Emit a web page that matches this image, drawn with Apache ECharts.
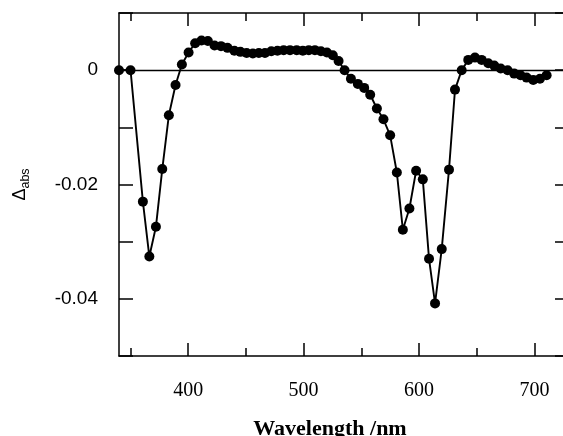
<!DOCTYPE html>
<html>
<head>
<meta charset="utf-8">
<script src="https://cdn.jsdelivr.net/npm/echarts@6/dist/echarts.min.js"></script>
<style>html,body{margin:0;padding:0;background:#fff}#c{width:563px;height:436px}</style>
</head>
<body>
<div id="c"></div>
<script>
const wavelengths = [340,350,360.7,366.3,372,377.5,383.2,389,394.5,400.3,406,411.5,417,422.8,428.4,434,440,445.2,450.6,456,461.2,466.5,472,477.3,482.7,488.2,494,499.3,504.5,509.8,515,520.2,525.3,530.3,535.5,541,547,552.5,557.7,563.5,569.2,575,580.8,586,591.7,597.5,603.3,608.7,613.9,619.7,626,631.2,637,642.7,648.5,654.3,660,665.2,670.8,676.8,682.5,688,693.3,699,704.8,710.6];
const deltaAbs = [0,0,-0.0230,-0.0326,-0.0274,-0.0173,-0.0079,-0.0026,0.0010,0.0031,0.0047,0.0052,0.0051,0.0043,0.0042,0.0039,0.0034,0.0032,0.0030,0.0029,0.0030,0.0030,0.0033,0.0034,0.0035,0.0035,0.0035,0.0034,0.0035,0.0035,0.0033,0.0031,0.0026,0.0016,0.0000,-0.0015,-0.0024,-0.0031,-0.0043,-0.0067,-0.0086,-0.0114,-0.0179,-0.0279,-0.0242,-0.0176,-0.0191,-0.0330,-0.0408,-0.0313,-0.0174,-0.0034,0.0000,0.0018,0.0022,0.0018,0.0012,0.0008,0.0003,0.0000,-0.0006,-0.0009,-0.0013,-0.0017,-0.0015,-0.0009];
const xMajorTicks = [400,500,600,700];
const xMinorTicks = [350,450,550,650];
const yTicks = [-0.05,-0.04,-0.03,-0.02,-0.01,0,0.01];
const yLabels = [-0.04,-0.02,0];

const points = wavelengths.map((w,i)=>[w, deltaAbs[i]]);
const axisLineStyle = {color:'#000', width:1.5};
const xRange = {min:340, max:730};

const chart = echarts.init(document.getElementById('c'), null, {renderer:'canvas'});
chart.setOption({
  animation:false,
  backgroundColor:'#fff',
  title:{
    text:'Wavelength /nm', left:325, top:413, textAlign:'center',
    textStyle:{fontFamily:'Liberation Serif', fontWeight:'bold', fontSize:22, color:'#000'}
  },
  grid:{left:119, top:13, width:450, height:343, containLabel:false, outerBoundsMode:'none'},
  xAxis:[
    Object.assign({type:'value', position:'bottom',
      axisLine:{show:true, lineStyle:axisLineStyle, onZero:false},
      axisTick:{show:true, inside:true, length:13, customValues:xMajorTicks, lineStyle:{color:'#000', width:1.5}},
      axisLabel:{customValues:xMajorTicks, margin:25, fontFamily:'Liberation Serif', fontSize:20, color:'#000'},
      splitLine:{show:false}}, xRange),
    Object.assign({type:'value', position:'bottom',
      axisLine:{show:false, onZero:false},
      axisTick:{show:true, inside:true, length:8, customValues:xMinorTicks, lineStyle:{color:'#000', width:1.5}},
      axisLabel:{show:false}, splitLine:{show:false}}, xRange),
    Object.assign({type:'value', position:'top',
      axisLine:{show:true, lineStyle:axisLineStyle, onZero:false},
      axisTick:{show:true, inside:true, length:13, customValues:xMajorTicks, lineStyle:{color:'#000', width:1.5}},
      axisLabel:{show:false}, splitLine:{show:false}}, xRange),
    Object.assign({type:'value', position:'top',
      axisLine:{show:false, onZero:false},
      axisTick:{show:true, inside:true, length:8, customValues:xMinorTicks, lineStyle:{color:'#000', width:1.5}},
      axisLabel:{show:false}, splitLine:{show:false}}, xRange)
  ],
  yAxis:[
    {type:'value', position:'left', min:-0.05, max:0.01, interval:0.01,
      axisLine:{show:true, lineStyle:axisLineStyle, onZero:false},
      axisTick:{show:true, inside:true, length:14, customValues:yTicks, lineStyle:{color:'#000', width:1.5}},
      axisLabel:{customValues:yLabels, margin:21, fontFamily:'Liberation Sans', fontSize:19, color:'#000',
        formatter:v=>{const r=Math.round(v*100)/100; return r===0?'0':r.toFixed(2);}},
      splitLine:{show:false},
      name:'{d|Δ}{s|abs}', nameLocation:'middle', nameRotate:90, nameGap:90,
      nameTextStyle:{color:'#000', rich:{
        d:{fontFamily:'Liberation Sans', fontSize:18, color:'#000', lineHeight:22, verticalAlign:'bottom'},
        s:{fontFamily:'Liberation Sans', fontSize:12.5, color:'#000', lineHeight:22, verticalAlign:'bottom', padding:[0,0,-3,0]}
      }}
    },
    {type:'value', position:'right', min:-0.05, max:0.01, interval:0.01,
      axisLine:{show:true, lineStyle:axisLineStyle, onZero:false},
      axisTick:{show:true, inside:true, length:14, customValues:yTicks, lineStyle:{color:'#000', width:1.5}},
      axisLabel:{show:false}, splitLine:{show:false}}
  ],
  series:[{
    type:'line', xAxisIndex:0, yAxisIndex:0, data:points,
    symbol:'circle', symbolSize:10, showAllSymbol:true,
    lineStyle:{color:'#000', width:1.9},
    itemStyle:{color:'#000'},
    markLine:{silent:true, symbol:'none', label:{show:false},
      lineStyle:{color:'#000', width:1.4, type:'solid'},
      data:[{yAxis:0}]}
  }]
});
</script>
</body>
</html>
